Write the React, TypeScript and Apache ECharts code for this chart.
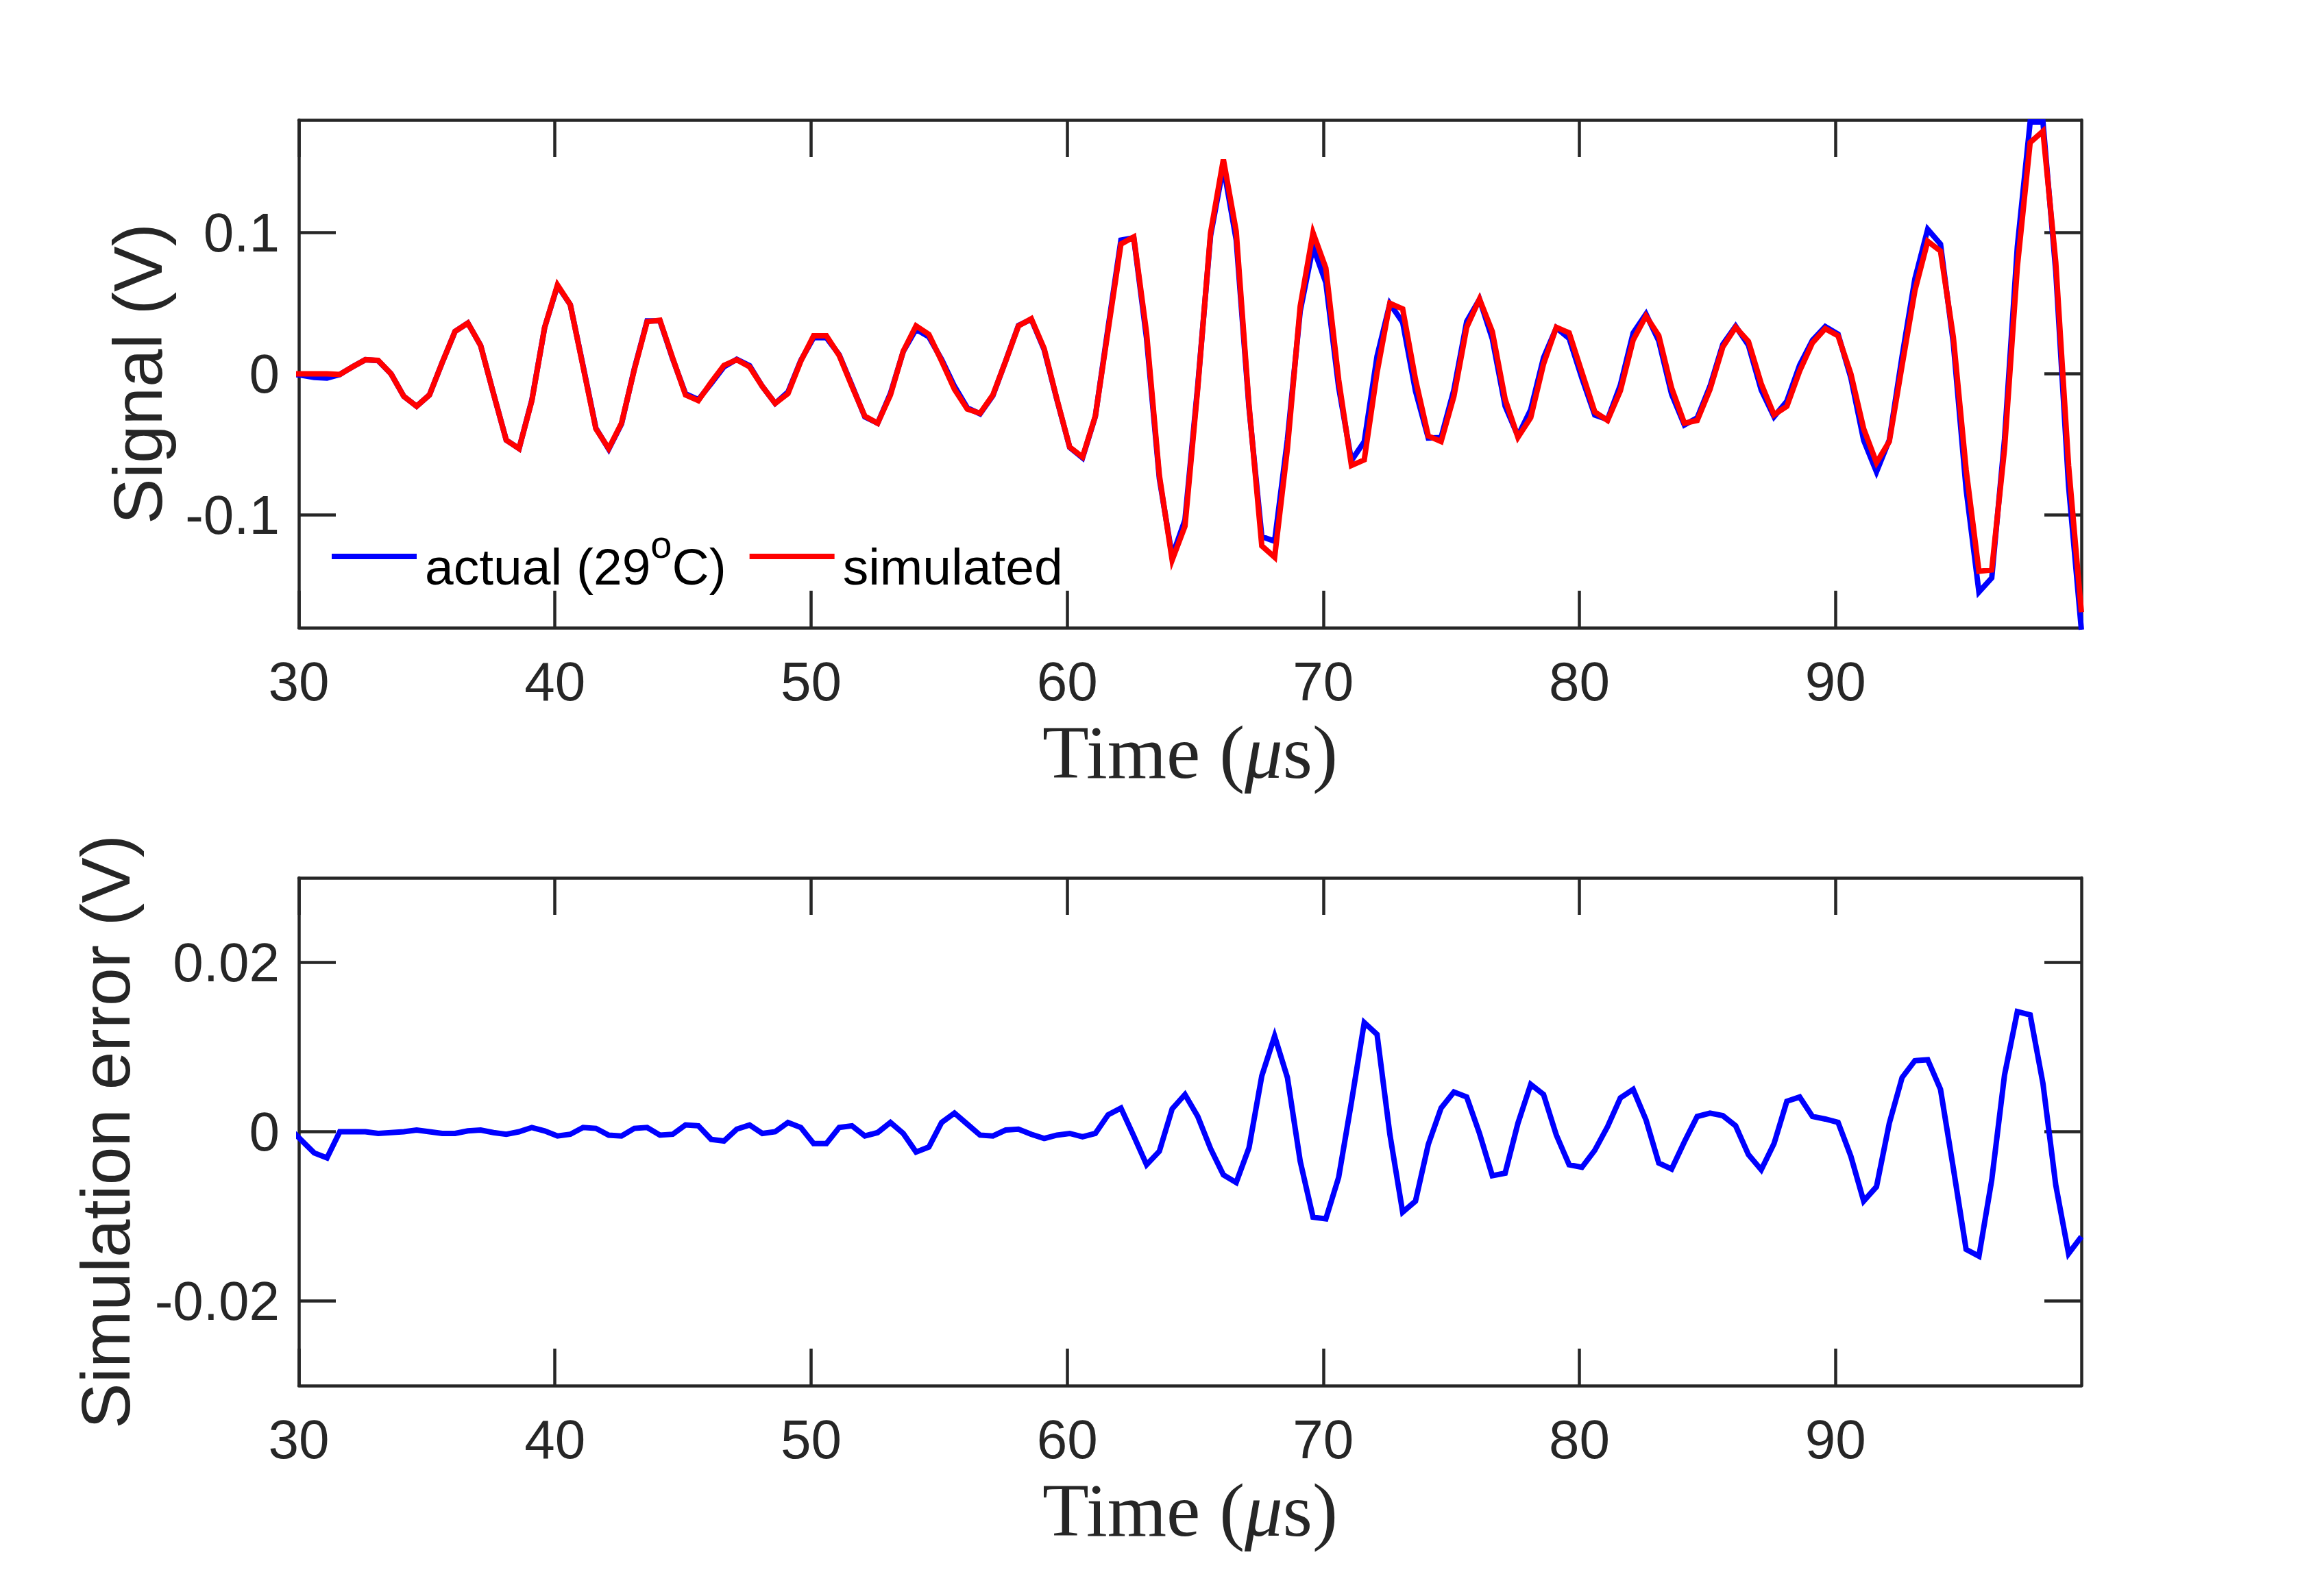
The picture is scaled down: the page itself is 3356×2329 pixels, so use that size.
import React, { useEffect, useRef } from "react";
import * as echarts from "echarts";

// Sampling grid of the recorded signals (µs)
const T0 = 29.6;
const DT = 0.5;

// Top panel: measured signal (V)
const actual = [
  0.0, -0.001, -0.0025, -0.003, -0.0005, 0.005, 0.01, 0.0093, 0.0, -0.016,
  -0.023, -0.015, 0.008, 0.03, 0.036, 0.02, -0.014, -0.047, -0.053, -0.0185,
  0.033, 0.0625, 0.049, 0.0055, -0.0385, -0.0535, -0.0355, 0.0035, 0.0375, 0.0375,
  0.0105, -0.0142, -0.0183, -0.0069, 0.0049, 0.0103, 0.0058, -0.009, -0.021, -0.0129,
  0.0095, 0.0256, 0.0256, 0.0135, -0.0083, -0.0305, -0.035, -0.0139, 0.0158, 0.0316,
  0.0262, 0.0101, -0.0088, -0.0241, -0.0284, -0.0155, 0.0092, 0.0343, 0.0387, 0.0172,
  -0.0184, -0.0522, -0.0596, -0.0302, 0.033, 0.0948, 0.0965, 0.0251, -0.0743, -0.1293,
  -0.1036, -0.0082, 0.098, 0.1469, 0.095, -0.0239, -0.1154, -0.1187, -0.0466, 0.0445,
  0.0899, 0.0647, -0.0094, -0.0615, -0.0481, 0.0125, 0.0497, 0.0365, -0.0122, -0.0455,
  -0.0452, -0.0113, 0.0371, 0.0528, 0.0248, -0.0229, -0.044, -0.0254, 0.0114, 0.0326,
  0.0251, -0.0032, -0.0292, -0.0324, -0.008, 0.029, 0.0424, 0.0233, -0.0144, -0.0362,
  -0.0312, -0.0088, 0.0209, 0.0337, 0.0203, -0.0115, -0.0304, -0.0194, 0.0061, 0.0238,
  0.0335, 0.0281, -0.0029, -0.0472, -0.0695, -0.047, 0.0124, 0.0674, 0.1025, 0.092,
  0.0217, -0.0819, -0.1547, -0.1447, -0.0463, 0.0902, 0.1785, 0.1785, 0.0727, -0.0794,
  -0.1814,
];

// Top panel: simulated signal (V)
const simulated = [
  0.0, 0.0, 0.0, 0.0, -0.0005, 0.005, 0.01, 0.0095, 0.0, -0.016,
  -0.023, -0.015, 0.008, 0.03, 0.036, 0.02, -0.014, -0.047, -0.053, -0.019,
  0.033, 0.063, 0.049, 0.005, -0.039, -0.053, -0.035, 0.003, 0.037, 0.038,
  0.011, -0.015, -0.019, -0.006, 0.006, 0.01, 0.005, -0.009, -0.021, -0.014,
  0.009, 0.027, 0.027, 0.013, -0.009, -0.03, -0.035, -0.015, 0.016, 0.034,
  0.028, 0.009, -0.011, -0.025, -0.028, -0.015, 0.009, 0.034, 0.039, 0.018,
  -0.018, -0.052, -0.059, -0.03, 0.031, 0.092, 0.097, 0.029, -0.072, -0.132,
  -0.108, -0.01, 0.1, 0.152, 0.101, -0.022, -0.122, -0.13, -0.053, 0.048,
  0.1, 0.075, -0.004, -0.065, -0.061, 0.001, 0.05, 0.046, -0.004, -0.044,
  -0.048, -0.016, 0.033, 0.053, 0.03, -0.018, -0.045, -0.031, 0.007, 0.033,
  0.029, 0.001, -0.027, -0.033, -0.012, 0.024, 0.041, 0.027, -0.01, -0.035,
  -0.033, -0.011, 0.019, 0.033, 0.023, -0.007, -0.029, -0.023, 0.002, 0.022,
  0.032, 0.027, 0.0, -0.039, -0.063, -0.048, 0.006, 0.059, 0.094, 0.087,
  0.026, -0.068, -0.14, -0.139, -0.053, 0.076, 0.164, 0.172, 0.079, -0.065,
  -0.169,
];

// Bottom panel: simulation error (V)
const simError = [
  0.0005, -0.001, -0.0025, -0.0031, 0.0, 0.0, 0.0, -0.0002, -0.0001, 0.0,
  0.0002, 0.0, -0.0002, -0.0002, 0.0001, 0.0002, -0.0001, -0.0003, 0.0, 0.0005,
  0.0001, -0.0005, -0.0003, 0.0005, 0.0004, -0.0004, -0.0005, 0.0004, 0.0005, -0.0004,
  -0.0003, 0.0008, 0.0007, -0.0009, -0.0011, 0.0003, 0.0008, -0.0002, 0.0, 0.0011,
  0.0005, -0.0014, -0.0014, 0.0005, 0.0007, -0.0005, -0.0001, 0.0011, -0.0002, -0.0024,
  -0.0018, 0.0011, 0.0022, 0.0009, -0.0004, -0.0005, 0.0002, 0.0003, -0.0003, -0.0008,
  -0.0004, -0.0002, -0.0006, -0.0002, 0.002, 0.0028, -0.0005, -0.0039, -0.0023, 0.0027,
  0.0044, 0.0018, -0.002, -0.0051, -0.006, -0.0019, 0.0066, 0.0113, 0.0064, -0.0035,
  -0.0101, -0.0103, -0.0054, 0.0035, 0.0129, 0.0115, -0.0003, -0.0095, -0.0082, -0.0015,
  0.0028, 0.0047, 0.0041, -0.0002, -0.0052, -0.0049, 0.001, 0.0056, 0.0044, -0.0004,
  -0.0039, -0.0042, -0.0022, 0.0006, 0.004, 0.005, 0.0014, -0.0037, -0.0044, -0.0012,
  0.0018, 0.0022, 0.0019, 0.0007, -0.0027, -0.0045, -0.0014, 0.0036, 0.0041, 0.0018,
  0.0015, 0.0011, -0.0029, -0.0082, -0.0065, 0.001, 0.0064, 0.0084, 0.0085, 0.005,
  -0.0043, -0.0139, -0.0147, -0.0057, 0.0067, 0.0142, 0.0138, 0.0057, -0.0063, -0.0144,
  -0.0124,
];

const X_TICKS = [30, 40, 50, 60, 70, 80, 90];
const Y1_TICKS = [-0.1, 0, 0.1];
const Y2_TICKS = [-0.02, 0, 0.02];

const AX = "#262626";
const SANS = "'Liberation Sans', Arial, Helvetica, sans-serif";
const SERIF = "'Liberation Serif', 'Times New Roman', serif";

export default function App() {
  const ref = useRef<HTMLDivElement>(null);

  useEffect(() => {
    if (!ref.current) return;
    const chart = echarts.init(ref.current, undefined, { renderer: "svg" });

    const times = simulated.map((_, i) => +(T0 + DT * i).toFixed(1));
    const pairs = (vals: number[]) => vals.map((v, i) => [times[i], v]);

    const fmt = (v: number) => (Math.abs(v) < 1e-12 ? "0" : String(+v.toFixed(4)));

    const xAxisDef = (gridIndex: number, position: string, labels: boolean) => ({
      type: "value",
      gridIndex,
      position,
      min: 30,
      max: 99.6,
      axisLine: { show: true, onZero: false, lineStyle: { color: AX, width: 4.5 } },
      axisTick: {
        show: true,
        inside: true,
        length: 54,
        customValues: X_TICKS,
        lineStyle: { color: AX, width: 4.5 },
      },
      axisLabel: {
        show: labels,
        customValues: X_TICKS,
        margin: 38,
        fontSize: 80,
        fontFamily: SANS,
        color: AX,
        formatter: (v: number) => fmt(v),
      },
      splitLine: { show: false },
      name: labels ? "{r|Time (}{i|μ}{r|s)}" : "",
      nameLocation: "middle",
      nameGap: 126,
      nameTextStyle: {
        rich: {
          r: { fontFamily: SERIF, fontSize: 111, color: AX },
          i: { fontFamily: SERIF, fontSize: 111, fontStyle: "italic", color: AX },
        },
      },
    });

    const yAxisDef = (
      gridIndex: number,
      position: string,
      labels: boolean,
      lim: number,
      ticks: number[],
      name: string,
      nameGap: number
    ) => ({
      type: "value",
      gridIndex,
      position,
      min: -lim,
      max: lim,
      axisLine: { show: true, onZero: false, lineStyle: { color: AX, width: 4.5 } },
      axisTick: {
        show: true,
        inside: true,
        length: 54,
        customValues: ticks,
        lineStyle: { color: AX, width: 4.5 },
      },
      axisLabel: {
        show: labels,
        customValues: ticks,
        margin: 28,
        fontSize: 80,
        fontFamily: SANS,
        color: AX,
        formatter: (v: number) => fmt(v),
      },
      splitLine: { show: false },
      name: labels ? name : "",
      nameLocation: "middle",
      nameGap,
      nameTextStyle: { fontFamily: SANS, fontSize: 100, color: AX },
    });

    const legendFormatter = (n: string) =>
      n === "actual" ? "{t|actual (29}{s|o}{t|C)}" : "{t|simulated}";

    chart.setOption({
      animation: false,
      backgroundColor: "#ffffff",
      grid: [
        { left: 436, top: 175, width: 2601, height: 741, containLabel: false },
        { left: 436, top: 1281, width: 2601, height: 741, containLabel: false },
      ],
      xAxis: [
        xAxisDef(0, "bottom", true),
        xAxisDef(0, "top", false),
        xAxisDef(1, "bottom", true),
        xAxisDef(1, "top", false),
      ],
      yAxis: [
        yAxisDef(0, "left", true, 0.18, Y1_TICKS, "Signal (V)", 185),
        yAxisDef(0, "right", false, 0.18, Y1_TICKS, "", 0),
        yAxisDef(1, "left", true, 0.03, Y2_TICKS, "Simulation error (V)", 232),
        yAxisDef(1, "right", false, 0.03, Y2_TICKS, "", 0),
      ],
      legend: {
        data: ["actual", "simulated"],
        left: 484,
        top: 766,
        orient: "horizontal",
        padding: 0,
        icon: "rect",
        itemWidth: 124,
        itemHeight: 8,
        itemGap: 34,
        formatter: legendFormatter,
        textStyle: {
          color: "#000000",
          padding: [30, 0, 0, 7],
          rich: {
            t: { fontFamily: SANS, fontSize: 75, color: "#000000" },
            s: {
              fontFamily: SANS,
              fontSize: 56,
              padding: [0, 0, 66, 0],
              color: "#000000",
            },
          },
        },
      },
      series: [
        {
          name: "actual",
          type: "line",
          xAxisIndex: 0,
          yAxisIndex: 0,
          data: pairs(actual),
          symbol: "none",
          clip: true,
          lineStyle: { color: "#0000ff", width: 8, join: "miter" },
          itemStyle: { color: "#0000ff" },
        },
        {
          name: "simulated",
          type: "line",
          xAxisIndex: 0,
          yAxisIndex: 0,
          data: pairs(simulated),
          symbol: "none",
          clip: true,
          lineStyle: { color: "#ff0000", width: 8, join: "miter" },
          itemStyle: { color: "#ff0000" },
        },
        {
          name: "error",
          type: "line",
          xAxisIndex: 2,
          yAxisIndex: 2,
          data: pairs(simError),
          symbol: "none",
          clip: true,
          lineStyle: { color: "#0000ff", width: 8, join: "miter" },
          itemStyle: { color: "#0000ff" },
        },
      ],
    });

    return () => chart.dispose();
  }, []);

  return (
    <div
      ref={ref}
      style={{ position: "fixed", left: 0, top: 0, width: 3356, height: 2329, background: "#fff" }}
    />
  );
}
